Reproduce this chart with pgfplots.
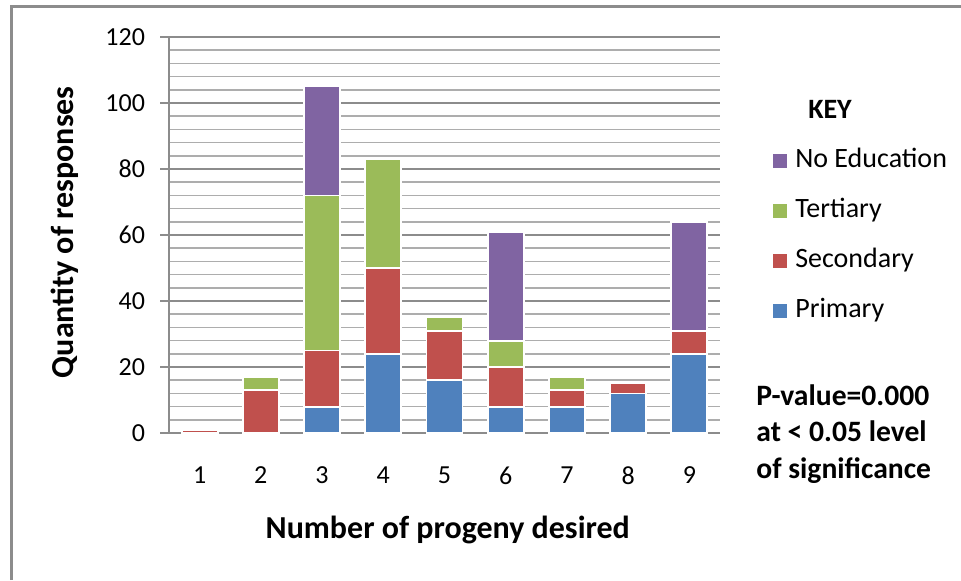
\documentclass[border=0pt]{standalone}
\usepackage{fontspec}
\setmainfont{Carlito}
\usepackage{pgfplots}
\usepackage{pgfplotstable}
\pgfplotsset{compat=1.18}

\definecolor{cPrim}{HTML}{4F81BD}
\definecolor{cSec}{HTML}{C0504D}
\definecolor{cTer}{HTML}{9BBB59}
\definecolor{cNoEd}{HTML}{8064A2}
\definecolor{gridmaj}{HTML}{8C8C8C}
\definecolor{gridmin}{HTML}{ADADAD}

% progeny desired vs. education level
\pgfplotstableread{
x prim sec ter noed
1 0  1  0  0
2 0  13 4  0
3 8  17 47 33
4 24 26 33 0
5 16 15 4  0
6 8  12 8  33
7 8  5  4  0
8 12 3  0  0
9 24 7  0  33
}\progeny

\begin{document}
\begin{tikzpicture}
\useasboundingbox (0,0) rectangle (480.5pt,290pt);
\draw[gridmaj, line width=1.5pt] (5.5pt,0) -- (5.5pt,286.5pt) -- (481pt,286.5pt);
\begin{axis}[
    at={(84.5pt,73.5pt)}, anchor=south west,
    scale only axis, width=275.5pt, height=198pt,
    ybar stacked, bar width=18pt,
    xmin=0.5, xmax=9.5, ymin=0, ymax=120,
    xtick={1,...,9}, ytick={0,20,...,120},
    minor y tick num=4,
    axis x line=bottom, axis y line=left,
    axis line style={-, gridmaj, line width=0.6pt},
    x axis line style={line width=1.2pt},
    ymajorgrids, yminorgrids,
    major grid style={gridmaj, line width=0.7pt},
    minor grid style={gridmin, line width=0.8pt},
    tick align=outside, major tick length=4.5pt, minor tick length=0pt,
    xtick style={draw=none}, ytick style={gridmaj, line width=0.6pt},
    ticklabel style={font=\fontsize{13}{15}\selectfont},
    /pgf/number format/assume math mode=true,
    xticklabel style={yshift=-9pt},
    yticklabel style={xshift=-4pt},
    xlabel={Number of progeny desired},
    ylabel={Quantity of responses},
    xlabel style={at={(axis description cs:0.506,-0.245)}, anchor=center, font=\bfseries\fontsize{16}{19}\selectfont},
    ylabel style={at={(axis description cs:-0.189,0.507)}, anchor=center, font=\bfseries\fontsize{16}{19}\selectfont},
    every axis plot/.append style={draw=white, line width=0.9pt},
    reverse legend,
    legend cell align=left,
    legend image code/.code={\fill[#1,draw=none] (0pt,-3.5pt) rectangle (7pt,3.5pt);},
    legend style={at={(1.096,0.727)}, anchor=north west, draw=none, fill=none,
        inner sep=0pt, row sep=10pt,
        nodes={font=\fontsize{14}{16}\selectfont, inner sep=1pt, text height=10pt, text depth=3pt},
        /tikz/every odd column/.append style={column sep=3pt}},
    clip=false,
]
\addplot[fill=cPrim] table[x=x, y=prim] {\progeny};
\addplot[fill=cSec] table[x=x, y=sec] {\progeny};
\addplot[fill=cTer] table[x=x, y=ter] {\progeny};
\addplot[fill=cNoEd] table[x=x, y=noed] {\progeny};
\legend{Primary, Secondary, Tertiary, No Education}
\end{axis}
\node[anchor=base, font=\bfseries\fontsize{14}{16}\selectfont] at (415pt,231pt) {KEY};
\node[anchor=base west, inner sep=0pt, font=\bfseries\fontsize{14.8}{17}\selectfont] at (378pt,87.5pt) {P-value=0.000};
\node[anchor=base west, inner sep=0pt, font=\bfseries\fontsize{14.8}{17}\selectfont] at (378pt,69.25pt) {at < 0.05 level};
\node[anchor=base west, inner sep=0pt, font=\bfseries\fontsize{14.8}{17}\selectfont] at (378pt,51pt) {of significance};
\end{tikzpicture}
\end{document}
